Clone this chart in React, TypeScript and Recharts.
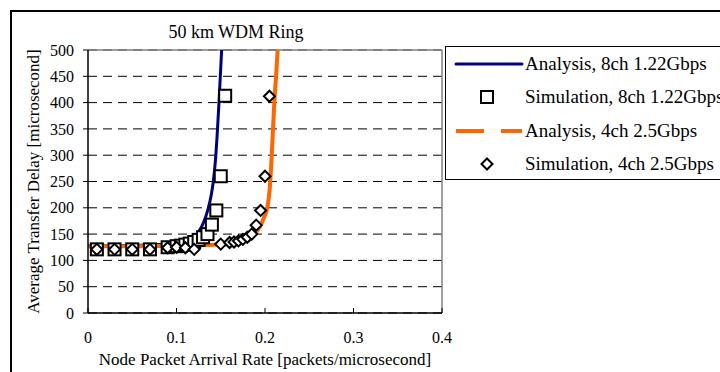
import { CartesianGrid, ComposedChart, Line, ReferenceLine, Scatter, XAxis, YAxis } from "recharts";

// Analysis curves
const analysis8chX = [0, 0.02, 0.04, 0.06, 0.08, 0.09, 0.1, 0.11, 0.115, 0.12, 0.123, 0.127, 0.13, 0.133, 0.136, 0.139, 0.1416, 0.144, 0.146, 0.148, 0.1495, 0.151];
const analysis8chY = [128, 128, 128.5, 129, 130, 131, 133, 137, 141, 146, 150, 160, 170, 183, 200, 222, 250, 290, 340, 400, 450, 500];

const analysis4chX = [0, 0.05, 0.1, 0.13, 0.15, 0.16, 0.17, 0.175, 0.18, 0.185, 0.188, 0.192, 0.196, 0.199, 0.202, 0.204, 0.2055, 0.207, 0.2085, 0.2105, 0.2125, 0.2143];
const analysis4chY = [127, 127, 128, 129, 130, 131, 133, 135, 138, 143, 150, 158, 170, 182, 196, 215, 240, 280, 330, 400, 450, 500];

// Simulation points
const sim8chX = [0.01, 0.03, 0.05, 0.07, 0.09, 0.1, 0.105, 0.11, 0.115, 0.12, 0.125, 0.13, 0.135, 0.14, 0.145, 0.15, 0.155];
const sim8chY = [121, 121, 121, 121, 125, 127, 128, 130, 132, 135, 139, 144, 150, 168, 195, 260, 413];

const sim4chX = [0.01, 0.03, 0.05, 0.07, 0.09, 0.1, 0.11, 0.12, 0.15, 0.16, 0.165, 0.17, 0.175, 0.18, 0.185, 0.19, 0.195, 0.2, 0.205];
const sim4chY = [121, 121, 121, 121, 124, 125, 124, 121, 131, 134, 135, 137, 140, 144, 150, 167, 195, 260, 412];

const xTicks = [0, 0.1, 0.2, 0.3, 0.4];
const yTicks = [0, 50, 100, 150, 200, 250, 300, 350, 400, 450, 500];

const legendLabels = [
  "Analysis, 8ch 1.22Gbps",
  "Simulation, 8ch 1.22Gbps",
  "Analysis, 4ch 2.5Gbps",
  "Simulation, 4ch 2.5Gbps",
];

const toPoints = (xs: number[], ys: number[]) => xs.map((x, i) => ({ x, y: ys[i] }));

const blueData = toPoints(analysis8chX, analysis8chY);
const orangeData = toPoints(analysis4chX, analysis4chY);
const squareData = toPoints(sim8chX, sim8chY);
const diamondData = toPoints(sim4chX, sim4chY);

const FONT = "'Liberation Serif', 'Times New Roman', serif";
const NAVY = "#000080";
const ORANGE = "#FF6600";

const SquareMark = (props: any) => {
  const { cx, cy } = props;
  return <rect x={cx - 6} y={cy - 6} width={12} height={12} fill="#fff" stroke="#000" strokeWidth={2} />;
};

const DiamondMark = (props: any) => {
  const { cx, cy } = props;
  const r = 5.5;
  return (
    <polygon
      points={`${cx},${cy - r} ${cx + r},${cy} ${cx},${cy + r} ${cx - r},${cy}`}
      fill="#fff"
      stroke="#000"
      strokeWidth={2}
    />
  );
};

const LegendSample = ({ index }: { index: number }) => {
  if (index === 0) {
    return (
      <svg width={70} height={12}>
        <line x1={2} y1={6} x2={68} y2={6} stroke={NAVY} strokeWidth={3} strokeLinecap="round" />
      </svg>
    );
  }
  if (index === 2) {
    return (
      <svg width={70} height={12}>
        <line x1={2} y1={6} x2={68} y2={6} stroke={ORANGE} strokeWidth={4} strokeDasharray="28 17" />
      </svg>
    );
  }
  return (
    <svg width={70} height={14}>
      {index === 1 ? <SquareMark cx={33} cy={7} /> : <DiamondMark cx={33} cy={7} />}
    </svg>
  );
};

export default function App() {
  return (
    <div
      style={{
        position: "absolute",
        left: 0,
        top: 0,
        width: 720,
        height: 372,
        overflow: "hidden",
        background: "#fff",
        fontFamily: FONT,
      }}
    >
      <style>{`.recharts-wrapper text, .recharts-text { font-family: ${FONT} !important; }`}</style>
      <div
        style={{
          position: "absolute",
          left: 10,
          top: 10,
          width: 720,
          height: 372,
          borderLeft: "2px solid #000",
          borderTop: "2px solid #000",
        }}
      />
      <div
        style={{
          position: "absolute",
          left: 0,
          top: 22,
          width: 472,
          textAlign: "center",
          fontSize: 18,
          lineHeight: "20px",
          color: "#000",
        }}
      >
        50 km WDM Ring
      </div>

      <div style={{ position: "absolute", left: 0, top: 0 }}>
        <ComposedChart width={720} height={372} margin={{ top: 50, right: 278, bottom: 0, left: 0 }}>
          <CartesianGrid vertical={false} stroke="#000" strokeDasharray="9 6" />
          <XAxis
            type="number"
            dataKey="x"
            domain={[0, 0.4]}
            ticks={xTicks}
            allowDataOverflow
            height={59}
            tickSize={-5}
            tickMargin={24}
            axisLine={{ stroke: "#000", strokeWidth: 1.5 }}
            tickLine={{ stroke: "#000" }}
            tick={{ fill: "#000", fontSize: 16 }}
            label={{
              value: "Node Packet Arrival Rate [packets/microsecond]",
              position: "insideBottom",
              offset: 7,
              fill: "#000",
              fontSize: 17,
            }}
          />
          <YAxis
            type="number"
            dataKey="y"
            domain={[0, 500]}
            ticks={yTicks}
            allowDataOverflow
            width={88}
            tickSize={5}
            tickMargin={9}
            axisLine={{ stroke: "#000", strokeWidth: 1.5 }}
            tickLine={{ stroke: "#000" }}
            tick={{ fill: "#000", fontSize: 16 }}
            label={{
              value: "Average Transfer Delay [microsecond]",
              angle: -90,
              position: "insideLeft",
              offset: 33,
              style: { textAnchor: "middle" },
              fill: "#000",
              fontSize: 17,
            }}
          />
          <ReferenceLine y={500} stroke="#808080" strokeWidth={1.5} />
          <ReferenceLine x={0.4} stroke="#808080" strokeWidth={1.5} />
          <Line
            data={blueData}
            dataKey="y"
            type="monotone"
            stroke={NAVY}
            strokeWidth={3}
            dot={false}
            activeDot={false}
            isAnimationActive={false}
          />
          <Scatter data={squareData} dataKey="y" shape={SquareMark} isAnimationActive={false} />
          <Line
            data={orangeData}
            dataKey="y"
            type="monotone"
            stroke={ORANGE}
            strokeWidth={4}
            dot={false}
            activeDot={false}
            isAnimationActive={false}
          />
          <Scatter data={diamondData} dataKey="y" shape={DiamondMark} isAnimationActive={false} />
        </ComposedChart>
      </div>

      <div
        style={{
          position: "absolute",
          left: 445,
          top: 46,
          width: 320,
          height: 132,
          border: "1px solid #000",
          background: "#fff",
        }}
      >
        {legendLabels.map((label, i) => (
          <div
            key={label}
            style={{
              position: "absolute",
              left: 8,
              top: 1 + i * 33.3,
              height: 32,
              display: "flex",
              alignItems: "center",
              whiteSpace: "nowrap",
              fontSize: 19,
              color: "#000",
            }}
          >
            <LegendSample index={i} />
            <span style={{ marginLeft: 1 }}>{label}</span>
          </div>
        ))}
      </div>
    </div>
  );
}
